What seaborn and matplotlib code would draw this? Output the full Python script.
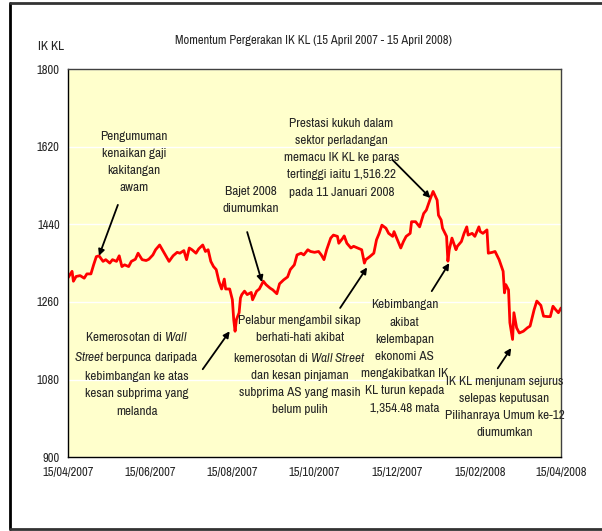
import matplotlib
matplotlib.use("Agg")
import matplotlib.pyplot as plt
import matplotlib.dates as mdates
import pandas as pd
import seaborn as sns

# KLCI readings
dates = [
    "2007-04-15", "2007-04-18", "2007-04-19", "2007-04-21", "2007-04-24", "2007-04-27",
    "2007-04-29", "2007-05-02", "2007-05-04", "2007-05-06", "2007-05-08", "2007-05-11",
    "2007-05-13", "2007-05-16", "2007-05-18", "2007-05-21", "2007-05-23", "2007-05-25",
    "2007-05-27", "2007-05-30", "2007-06-01", "2007-06-04", "2007-06-06", "2007-06-09",
    "2007-06-12", "2007-06-14", "2007-06-17", "2007-06-19", "2007-06-22", "2007-06-24",
    "2007-06-27", "2007-06-29", "2007-07-02", "2007-07-05", "2007-07-07", "2007-07-10",
    "2007-07-12", "2007-07-14", "2007-07-16", "2007-07-19", "2007-07-21", "2007-07-24",
    "2007-07-26", "2007-07-28", "2007-07-30", "2007-08-01", "2007-08-03", "2007-08-05",
    "2007-08-07", "2007-08-09", "2007-08-10", "2007-08-13", "2007-08-15", "2007-08-16",
    "2007-08-17", "2007-08-18", "2007-08-20", "2007-08-21", "2007-08-22", "2007-08-24",
    "2007-08-26", "2007-08-29", "2007-08-30", "2007-09-02", "2007-09-04", "2007-09-07",
    "2007-09-09", "2007-09-12", "2007-09-14", "2007-09-17", "2007-09-19", "2007-09-22",
    "2007-09-25", "2007-09-27", "2007-09-30", "2007-10-02", "2007-10-05", "2007-10-07",
    "2007-10-10", "2007-10-12", "2007-10-15", "2007-10-18", "2007-10-20", "2007-10-22",
    "2007-10-24", "2007-10-27", "2007-10-29", "2007-11-01", "2007-11-02", "2007-11-05",
    "2007-11-06", "2007-11-08", "2007-11-11", "2007-11-13", "2007-11-16", "2007-11-19",
    "2007-11-21", "2007-11-22", "2007-11-25", "2007-11-28", "2007-11-30", "2007-12-02",
    "2007-12-04", "2007-12-07", "2007-12-09", "2007-12-12", "2007-12-13", "2007-12-16",
    "2007-12-18", "2007-12-20", "2007-12-22", "2007-12-25", "2007-12-26", "2007-12-29",
    "2008-01-01", "2008-01-04", "2008-01-06", "2008-01-09", "2008-01-11", "2008-01-14",
    "2008-01-15", "2008-01-17", "2008-01-18", "2008-01-21", "2008-01-22", "2008-01-23",
    "2008-01-25", "2008-01-28", "2008-01-29", "2008-02-01", "2008-02-03", "2008-02-05",
    "2008-02-06", "2008-02-09", "2008-02-11", "2008-02-14", "2008-02-15", "2008-02-17",
    "2008-02-20", "2008-02-21", "2008-02-24", "2008-02-26", "2008-02-29", "2008-03-03",
    "2008-03-04", "2008-03-05", "2008-03-07", "2008-03-08", "2008-03-10", "2008-03-11",
    "2008-03-13", "2008-03-15", "2008-03-18", "2008-03-21", "2008-03-23", "2008-03-26",
    "2008-03-28", "2008-03-31", "2008-04-02", "2008-04-05", "2008-04-07", "2008-04-09",
    "2008-04-11", "2008-04-13", "2008-04-15",
]
klci = [
    1316, 1331, 1308, 1319, 1321, 1315,
    1325, 1325, 1346, 1365, 1367, 1354,
    1358, 1350, 1358, 1354, 1367, 1342,
    1346, 1342, 1354, 1359, 1373, 1358,
    1356, 1359, 1369, 1381, 1392, 1381,
    1365, 1354, 1367, 1375, 1373, 1379,
    1358, 1385, 1381, 1373, 1383, 1392,
    1377, 1381, 1354, 1342, 1335, 1308,
    1290, 1313, 1290, 1290, 1265, 1219,
    1192, 1219, 1235, 1269, 1277, 1285,
    1277, 1282, 1265, 1285, 1290, 1308,
    1300, 1292, 1288, 1279, 1302, 1311,
    1318, 1335, 1346, 1369, 1373, 1369,
    1381, 1377, 1375, 1377, 1369, 1358,
    1381, 1408, 1415, 1412, 1396, 1408,
    1413, 1396, 1385, 1389, 1385, 1381,
    1350, 1358, 1365, 1373, 1404, 1419,
    1438, 1431, 1419, 1412, 1423, 1400,
    1385, 1400, 1412, 1419, 1446, 1446,
    1434, 1465, 1473, 1500, 1516.22, 1496,
    1461, 1450, 1431, 1412, 1354.48, 1381,
    1408, 1381, 1389, 1400, 1419, 1434,
    1415, 1419, 1412, 1434, 1423, 1419,
    1427, 1373, 1375, 1377, 1358, 1331,
    1281, 1300, 1288, 1212, 1173, 1235,
    1200, 1188, 1192, 1200, 1204, 1242,
    1262, 1252, 1227, 1226, 1226, 1250,
    1242, 1235, 1246,
]

y_ticks = [900, 1080, 1260, 1440, 1620, 1800]
x_ticks = ["2007-04-15", "2007-06-15", "2007-08-15", "2007-10-15",
           "2007-12-15", "2008-02-15", "2008-04-15"]

# (text, text date, text value, arrow tail date, tail value, arrow head date, head value)
notes = [
    ("Pengumuman\nkenaikan gaji\nkakitangan\nawam",
     "2007-06-03", 1584, "2007-05-22", 1485, "2007-05-08", 1367),
    ("Bajet 2008\ndiumumkan",
     "2007-08-29", 1496, "2007-08-26", 1422, "2007-09-06", 1306),
    ("Prestasi kukuh dalam\nsektor perladangan\nmemacu IK KL ke paras\n"
     "tertinggi iaitu 1,516.22\npada 11 Januari 2008",
     "2007-11-04", 1594, "2007-12-12", 1589, "2008-01-09", 1501),
    (r"Kemerosotan di $\it{Wall}$" + "\n" + r"$\it{Street}$ berpunca daripada"
     "\nkebimbangan ke atas\nkesan subprima yang\nmelanda",
     "2007-06-05", 1095, "2007-07-24", 1104, "2007-08-13", 1192),
    ("Pelabur mengambil sikap\nberhati-hati akibat\n"
     r"kemerosotan di $\it{Wall\ Street}$" + "\ndan kesan pinjaman\n"
     "subprima AS yang masih\nbelum pulih",
     "2007-10-04", 1113, "2007-11-03", 1246, "2007-11-23", 1340),
    ("Kebimbangan\nakibat\nkelembapan\nekonomi AS\nmengakibatkan IK\n"
     "KL turun kepada\n1,354.48 mata",
     "2007-12-21", 1134, "2008-01-10", 1285, "2008-01-23", 1350),
    ("IK KL menjunam sejurus\nselepas keputusan\nPilihanraya Umum ke-12\ndiumumkan",
     "2008-03-04", 1016, "2008-02-28", 1106, "2008-03-09", 1153),
]

sns.set_style("white")
plt.rcParams["font.family"] = ["Archivo Narrow", "Liberation Sans", "DejaVu Sans"]
plt.rcParams["mathtext.fontset"] = "custom"
plt.rcParams["mathtext.it"] = "Archivo Narrow:italic"
plt.rcParams["mathtext.rm"] = "Archivo Narrow"

df = pd.DataFrame({"date": pd.to_datetime(dates), "klci": klci})

fig = plt.figure(figsize=(6.02, 5.31), dpi=100)
ax = fig.add_axes([0.113, 0.139, 0.819, 0.731])
ax.set_facecolor("#FFFFCC")

sns.lineplot(data=df, x="date", y="klci", color="#FF0000", linewidth=2.0, ax=ax)

ax.set_ylim(900, 1800)
ax.set_yticks(y_ticks)
ax.set_xlim(pd.Timestamp(x_ticks[0]), pd.Timestamp(x_ticks[-1]))
ax.set_xticks(pd.to_datetime(x_ticks))
ax.xaxis.set_major_formatter(mdates.DateFormatter("%d/%m/%Y"))
ax.grid(axis="y", color="white", linewidth=1.0)
ax.set_axisbelow(True)
ax.set_xlabel("")
ax.set_ylabel("")
ax.tick_params(axis="both", direction="out", length=4, width=1, color="black",
               labelsize=9, pad=2)
ax.tick_params(axis="x", pad=3)
for side in ["left", "bottom"]:
    ax.spines[side].set_color("black")
    ax.spines[side].set_linewidth(1.0)
for side in ["top", "right"]:
    ax.spines[side].set_color("#404040")
    ax.spines[side].set_linewidth(1.0)

for text, tx, ty, ax0, ay0, ax1, ay1 in notes:
    ax.text(pd.Timestamp(tx), ty, text, ha="center", va="center", fontsize=9.5,
            linespacing=1.68)
    ax.annotate("", xy=(pd.Timestamp(ax1), ay1), xytext=(pd.Timestamp(ax0), ay0),
                arrowprops=dict(arrowstyle="-|>", color="black", lw=1.3,
                                mutation_scale=9, shrinkA=0, shrinkB=0))

fig.text(0.52, 0.923, "Momentum Pergerakan IK KL (15 April 2007 - 15 April 2008)",
         ha="center", va="center", fontsize=9)
fig.text(0.085, 0.913, "IK KL", ha="center", va="center", fontsize=9.5)

# outer chart frame (left, top, bottom)
fig.add_artist(plt.Line2D([0.016, 0.016], [0.003, 0.995], color="black", lw=2,
                          transform=fig.transFigure))
fig.add_artist(plt.Line2D([0.016, 1.0], [0.995, 0.995], color="#333333", lw=2,
                          transform=fig.transFigure))
fig.add_artist(plt.Line2D([0.016, 1.0], [0.003, 0.003], color="#333333", lw=2,
                          transform=fig.transFigure))

fig.savefig("out.png", dpi=100)
